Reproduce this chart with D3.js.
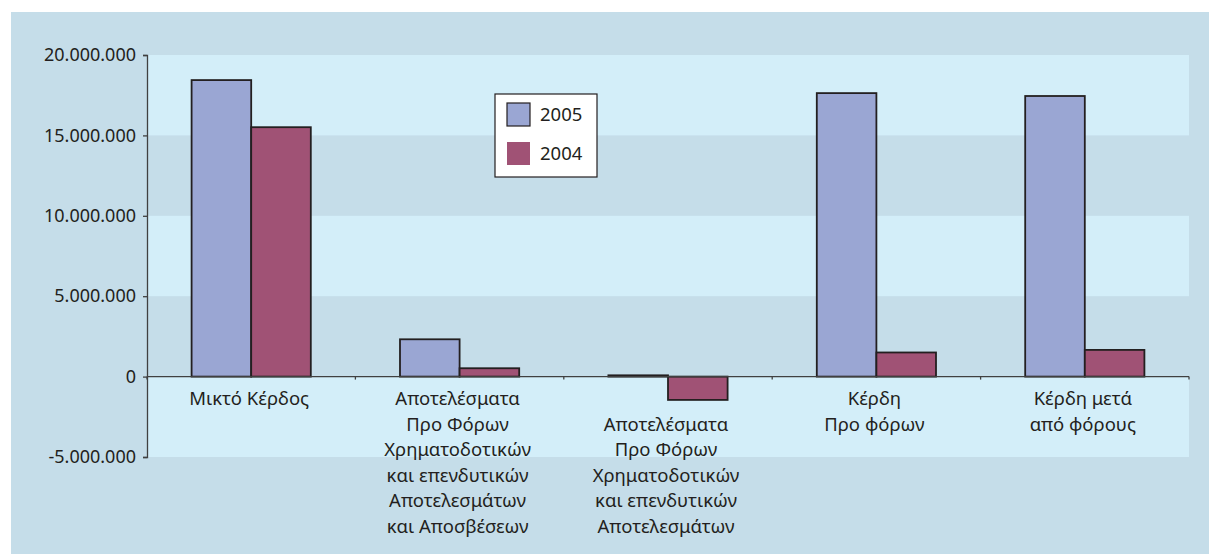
<!DOCTYPE html>
<html>
<head>
<meta charset="utf-8">
<script src="https://cdn.jsdelivr.net/npm/d3@7"></script>
<style>
  html, body { margin: 0; padding: 0; background: #ffffff; }
  svg { display: block; }
  text { font-family: "Noto Sans", "DejaVu Sans", sans-serif; fill: #231f20; }
</style>
</head>
<body>
<svg id="chart" width="1209" height="554"></svg>
<script>
// categories and label lines (one array of lines for each category)
const categories = ['Μικτό Κέρδος', 'Αποτελέσματα ΠΦ ΧΕΑ Αποσβ.', 'Αποτελέσματα ΠΦ ΧΕΑ', 'Κέρδη Προ φόρων', 'Κέρδη μετά από φόρους']
const labelLines = [
  ['Μικτό Κέρδος'],
  ['Αποτελέσματα', 'Προ Φόρων', 'Χρηματοδοτικών', 'και επενδυτικών', 'Αποτελεσμάτων', 'και Αποσβέσεων'],
  ['', 'Αποτελέσματα', 'Προ Φόρων', 'Χρηματοδοτικών', 'και επενδυτικών', 'Αποτελεσμάτων'],
  ['Κέρδη', 'Προ φόρων'],
  ['Κέρδη μετά', 'από φόρους']
]
const seriesNames = ['2005', '2004']
const values2005 = [18440000, 2320000, 80000, 17630000, 17450000]
const values2004 = [15510000, 520000, -1450000, 1500000, 1660000]
const yTicks = [-5000000, 0, 5000000, 10000000, 15000000, 20000000]

const colors = { '2005': '#9aa6d3', '2004': '#a05275' }
const outerFill = '#c5dde9'
const bandFill = '#d3eef9'

const svg = d3.select('#chart')
const plot = { left: 147, right: 1189, top: 55, bottom: 457 }

// outer panel
svg.append('rect')
   .attr('x', 11).attr('y', 12)
   .attr('width', 1198).attr('height', 542)
   .attr('fill', outerFill)

const y = d3.scaleLinear()
            .domain([d3.min(yTicks), d3.max(yTicks)])
            .range([plot.bottom, plot.top])
const x = d3.scaleBand()
            .domain(categories)
            .range([plot.left, plot.right])
            .padding(0)
const barW = x.bandwidth() * 0.286

// alternate light bands, top one first
const sorted = yTicks.slice().sort((a, b) => b - a)
const bands = []
for (let i = 0; i < sorted.length - 1; i += 2) {
  bands.push([sorted[i], sorted[i + 1]])
}
svg.append('g').selectAll('rect')
   .data(bands)
   .join('rect')
   .attr('x', plot.left)
   .attr('width', plot.right - plot.left)
   .attr('y', d => y(d[0]))
   .attr('height', d => y(d[1]) - y(d[0]))
   .attr('fill', bandFill)

// bars
const rows = categories.map((c, i) => ({ c, vals: [values2005[i], values2004[i]] }))
const groups = svg.append('g').selectAll('g')
                  .data(rows)
                  .join('g')
                  .attr('transform', d => `translate(${x(d.c) + x.bandwidth() / 2 - barW},0)`)
groups.selectAll('rect')
      .data(d => d.vals.map((v, j) => ({ v, s: seriesNames[j], j })))
      .join('rect')
      .attr('x', d => d.j * barW)
      .attr('width', barW)
      .attr('y', d => Math.min(y(d.v), y(0)))
      .attr('height', d => Math.abs(y(d.v) - y(0)))
      .attr('fill', d => colors[d.s])
      .attr('stroke', '#231f20')
      .attr('stroke-width', 1.8)

// y axis
const fmt = d3.formatLocale({ decimal: ',', thousands: '.', grouping: [3], currency: ['', '€'], minus: '-' }).format(',d')
const yAxis = d3.axisLeft(y)
                .tickValues(yTicks)
                .tickFormat(fmt)
                .tickSizeInner(4)
                .tickSizeOuter(4)
                .tickPadding(7)
const gy = svg.append('g')
              .attr('transform', `translate(${plot.left},0)`)
              .call(yAxis)
gy.selectAll('path, line').attr('stroke', '#404040').attr('stroke-width', 1.3)
gy.selectAll('text')
  .attr('fill', '#231f20')
  .style('font-size', '18px')
  .style('font-family', '"Noto Sans", sans-serif')

// zero line with ticks at category boundaries
const gx = svg.append('g')
gx.append('line')
  .attr('x1', plot.left).attr('x2', plot.right)
  .attr('y1', y(0)).attr('y2', y(0))
  .attr('stroke', '#404040').attr('stroke-width', 1.3)
const bounds = categories.map(c => x(c)).concat([plot.right])
gx.selectAll('line.tick')
  .data(bounds)
  .join('line')
  .attr('class', 'tick')
  .attr('x1', d => d).attr('x2', d => d)
  .attr('y1', y(0)).attr('y2', y(0) + 3)
  .attr('stroke', '#404040').attr('stroke-width', 1.3)

// category labels
const lineH = 25.5
svg.append('g').selectAll('text')
   .data(rows.map((r, i) => ({ c: r.c, lines: labelLines[i] })))
   .join('text')
   .attr('text-anchor', 'middle')
   .style('font-size', '18.5px')
   .each(function (d) {
     d3.select(this).selectAll('tspan')
       .data(d.lines)
       .join('tspan')
       .attr('x', x(d.c) + x.bandwidth() / 2 - 2)
       .attr('y', (l, k) => 405 + k * lineH)
       .text(l => l)
   })

// legend
const lg = svg.append('g').attr('transform', 'translate(495,94)')
lg.append('rect')
  .attr('width', 102).attr('height', 83)
  .attr('fill', '#ffffff')
  .attr('stroke', '#231f20').attr('stroke-width', 1.2)
const items = lg.selectAll('g')
                .data(seriesNames)
                .join('g')
                .attr('transform', (d, i) => `translate(12,${9 + i * 39})`)
items.append('rect')
     .attr('width', 23).attr('height', 23)
     .attr('fill', d => colors[d])
     .attr('stroke', (d, i) => i === 0 ? '#231f20' : 'none')
     .attr('stroke-width', 1.2)
items.append('text')
     .attr('x', 33).attr('y', 18)
     .style('font-size', '18.5px')
     .text(d => d)
</script>
</body>
</html>
